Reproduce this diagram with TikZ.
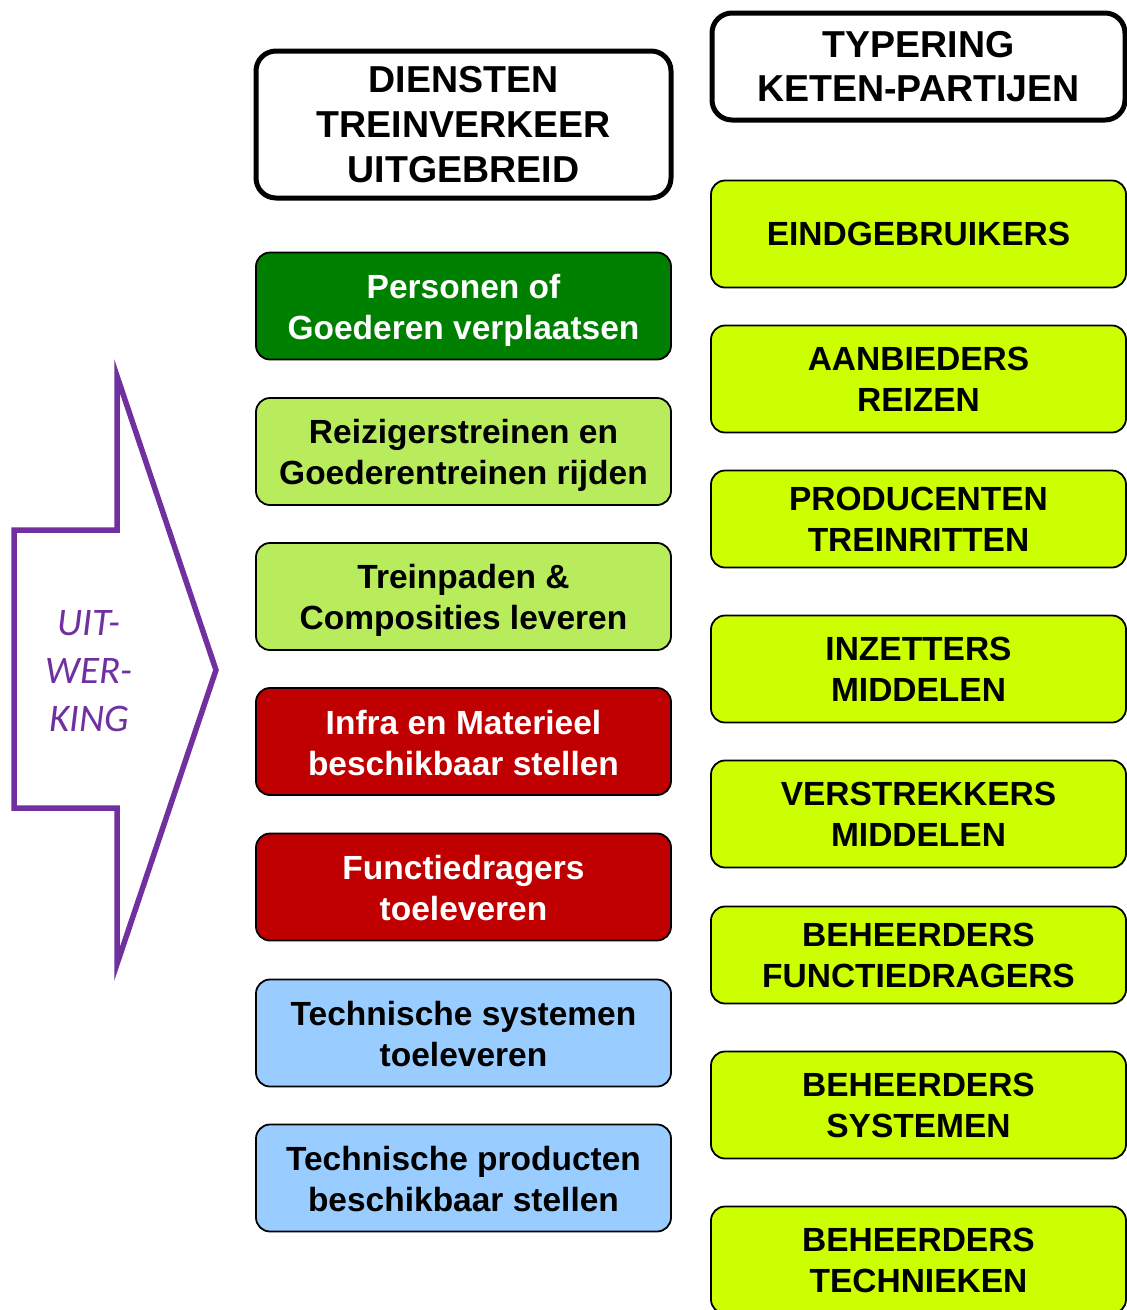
\documentclass[tikz,border=0pt]{standalone}
\usepackage{fontspec}
\setmainfont{Liberation Sans}
\newfontfamily\arrowfont{Carlito}
\definecolor{dgreen}{RGB}{0,128,0}
\definecolor{lgreen}{RGB}{185,236,92}
\definecolor{dred}{RGB}{192,0,0}
\definecolor{lblue}{RGB}{153,204,255}
\definecolor{ygreen}{RGB}{204,255,0}
\definecolor{purp}{RGB}{112,48,160}
\begin{document}
\begin{tikzpicture}[x=1pt,y=-1pt,
  boxbase/.style={rectangle, rounded corners=14pt, minimum width=415pt, minimum height=107pt,
    inner sep=0pt, align=center, draw=black, line width=1.8pt,
    font=\fontsize{33.5}{41}\selectfont\bfseries},
  headbox/.style={boxbase, line width=5pt, rounded corners=20pt, fill=white},
  lbox/.style={boxbase},
  ltext/.style={inner sep=0pt, align=center, font=\fontsize{33.5}{41}\selectfont\bfseries},
  rbox/.style={boxbase, fill=ygreen}]
\useasboundingbox (0,0) rectangle (1127,1310);
\clip (0,0) rectangle (1127,1310);
% headers
\node[headbox, minimum height=147pt, font=\fontsize{37.5}{45}\selectfont\bfseries] (hl) at (463.5,124.5) {DIENSTEN\\TREINVERKEER\\UITGEBREID};
\node[headbox, minimum width=413pt, font=\fontsize{37.5}{44}\selectfont\bfseries] (hr) at (918.5,66.5) {TYPERING\\KETEN-PARTIJEN};
% left column
\node[lbox, fill=dgreen] (l1) at (463.5,306) {};
\node[ltext, text=white] (t1) at ([yshift=-4pt]l1.center) {Personen of\\Goederen verplaatsen};
\node[lbox, fill=lgreen] (l2) at (463.5,451.5) {};
\node[ltext] (t2) at ([yshift=-4pt]l2.center) {Reizigerstreinen en\\Goederentreinen rijden};
\node[lbox, fill=lgreen] (l3) at (463.5,596.5) {};
\node[ltext] (t3) at ([yshift=-4pt]l3.center) {Treinpaden \&\\Composities leveren};
\node[lbox, fill=dred] (l4) at (463.5,741.5) {};
\node[ltext, text=white] (t4) at ([yshift=-2pt]l4.center) {Infra en Materieel\\beschikbaar stellen};
\node[lbox, fill=dred] (l5) at (463.5,887) {};
\node[ltext, text=white] (t5) at ([yshift=-1pt]l5.center) {Functiedragers\\toeleveren};
\node[lbox, fill=lblue] (l6) at (463.5,1033) {};
\node[ltext] (t6) at ([yshift=-1pt]l6.center) {Technische systemen\\toeleveren};
\node[lbox, fill=lblue] (l7) at (463.5,1178) {};
\node[ltext] (t7) at ([yshift=-1pt]l7.center) {Technische producten\\beschikbaar stellen};
% right column
\node[rbox] (r1) at (918.5,234) {EINDGEBRUIKERS};
\node[rbox] (r2) at (918.5,379) {AANBIEDERS\\REIZEN};
\node[rbox, minimum height=97pt] (r3) at (918.5,519) {PRODUCENTEN\\TREINRITTEN};
\node[rbox] (r4) at (918.5,669) {INZETTERS\\MIDDELEN};
\node[rbox] (r5) at (918.5,814) {VERSTREKKERS\\MIDDELEN};
\node[rbox, minimum height=97pt] (r6) at (918.5,955) {BEHEERDERS\\FUNCTIEDRAGERS};
\node[rbox] (r7) at (918.5,1105) {BEHEERDERS\\SYSTEMEN};
\node[rbox] (r8) at (918.5,1260) {BEHEERDERS\\TECHNIEKEN};
% arrow
\draw[purp, line width=5.5pt, line join=miter, fill=white]
  (14,530) -- (117,530) -- (117,376) -- (216,670) -- (117,964) -- (117,808) -- (14,808) -- cycle;
\node[text=purp, align=center, font=\arrowfont\itshape\fontsize{39}{48}\selectfont] (arr) at (89,671) {UIT-\\WER-\\KING};
\end{tikzpicture}
\end{document}
